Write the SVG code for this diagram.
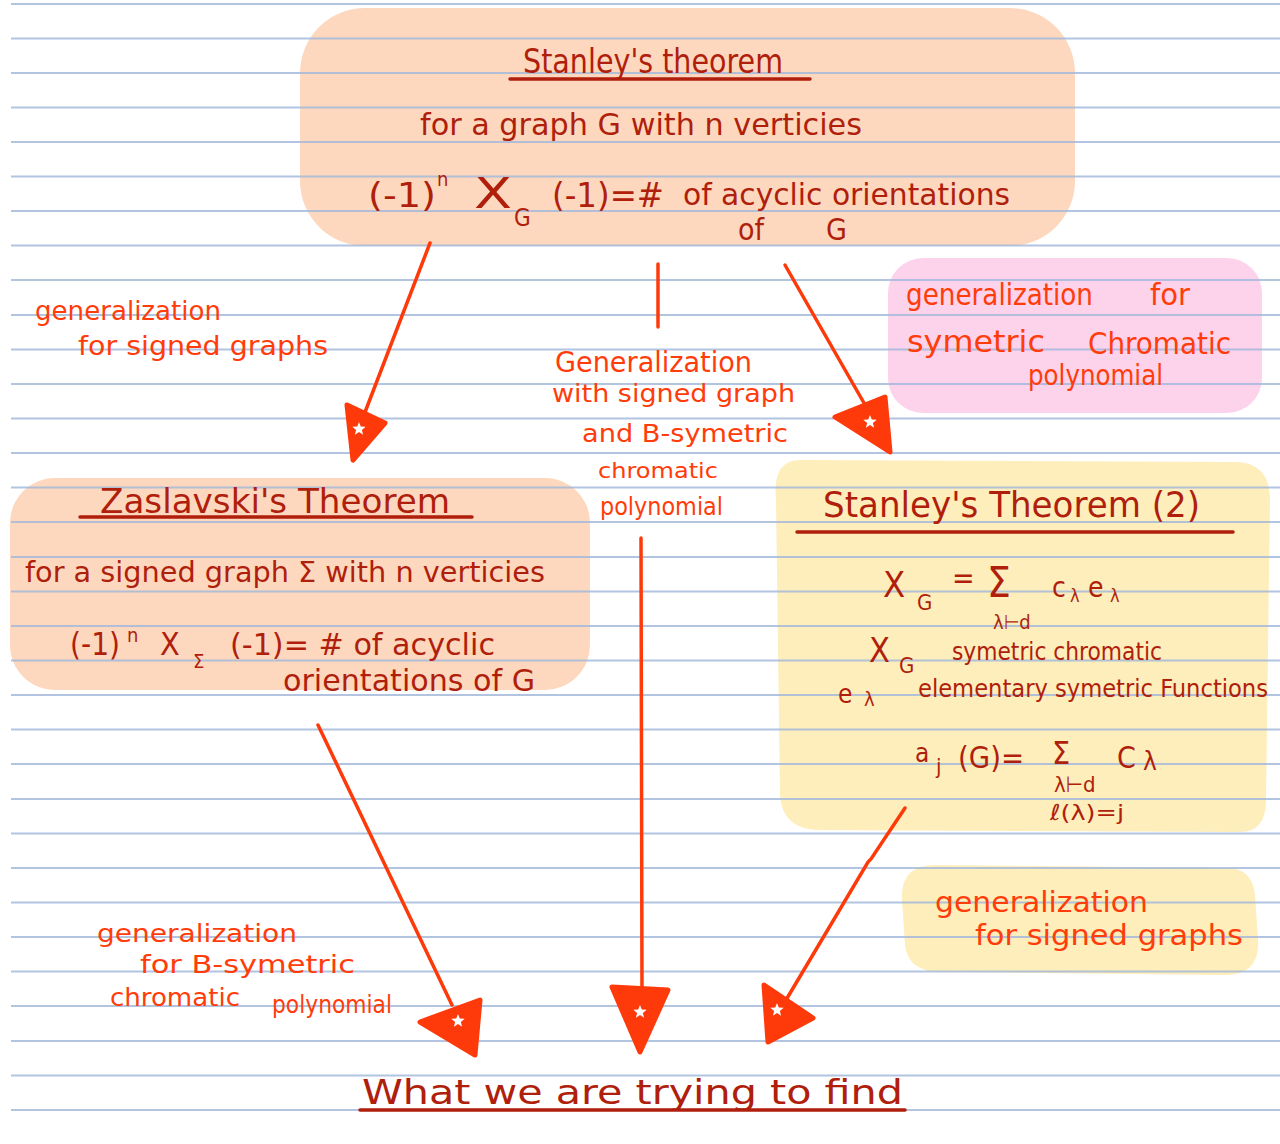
<svg xmlns="http://www.w3.org/2000/svg" width="1280" height="1144" viewBox="0 0 1280 1144">
<style>
.t{font-family:"Liberation Sans Narrow","DejaVu Sans Condensed","Liberation Sans","DejaVu Sans",sans-serif;fill:#b01e0c}
.o{font-family:"Liberation Sans Narrow","DejaVu Sans Condensed","Liberation Sans","DejaVu Sans",sans-serif;fill:#ff3c0a}
.ul{stroke:#b01e0c;stroke-width:3.5;stroke-linecap:round}
.cn{stroke:#ff3a0a;stroke-width:3.5;fill:none;stroke-linecap:round}
.ah{fill:#ff3a0a;stroke:#ff3a0a;stroke-width:5;stroke-linejoin:round}
.rule{stroke:#a6badb;stroke-width:2;opacity:0.85}
</style>
<defs>
<path id="star" d="M0,-7 L1.76,-2.43 L6.66,-2.16 L2.85,0.93 L4.11,5.66 L0,3 L-4.11,5.66 L-2.85,0.93 L-6.66,-2.16 L-1.76,-2.43 Z" fill="#ffffff"/>
</defs>
<rect width="1280" height="1144" fill="#ffffff"/>
<g id="boxes">
<rect x="300" y="8" width="775" height="238" rx="65" fill="#fdd8be"/>
<rect x="10" y="478" width="580" height="212" rx="45" fill="#fdd8be"/>
<rect x="888" y="258" width="374" height="155" rx="35" fill="#fdd3ec"/>
<path d="M800,460 Q772,460 776,500 L780,795 Q782,832 825,830 L1240,832 Q1266,832 1266,800 L1270,500 Q1270,462 1235,462 Z" fill="#fdeebb"/>
<path d="M935,865 Q900,865 902,900 L905,945 Q908,975 950,972 L1225,975 Q1260,975 1258,940 L1255,895 Q1252,865 1220,868 Z" fill="#fdeebb"/>
</g>
<g id="rules">
<line class="rule" x1="11" y1="4" x2="1280" y2="4" opacity="0.5"/>
<line class="rule" x1="11" y1="38.5" x2="1280" y2="38.5"/>
<line class="rule" x1="11" y1="73" x2="1280" y2="73"/>
<line class="rule" x1="11" y1="107.5" x2="1280" y2="107.5"/>
<line class="rule" x1="11" y1="142" x2="1280" y2="142"/>
<line class="rule" x1="11" y1="176.5" x2="1280" y2="176.5"/>
<line class="rule" x1="11" y1="211" x2="1280" y2="211"/>
<line class="rule" x1="11" y1="245.5" x2="1280" y2="245.5"/>
<line class="rule" x1="11" y1="280" x2="1280" y2="280"/>
<line class="rule" x1="11" y1="315" x2="1280" y2="315"/>
<line class="rule" x1="11" y1="349.5" x2="1280" y2="349.5"/>
<line class="rule" x1="11" y1="384" x2="1280" y2="384"/>
<line class="rule" x1="11" y1="418.5" x2="1280" y2="418.5"/>
<line class="rule" x1="11" y1="453" x2="1280" y2="453"/>
<line class="rule" x1="11" y1="487.5" x2="1280" y2="487.5"/>
<line class="rule" x1="11" y1="522" x2="1280" y2="522"/>
<line class="rule" x1="11" y1="557" x2="1280" y2="557"/>
<line class="rule" x1="11" y1="591.5" x2="1280" y2="591.5"/>
<line class="rule" x1="11" y1="626" x2="1280" y2="626"/>
<line class="rule" x1="11" y1="660.5" x2="1280" y2="660.5"/>
<line class="rule" x1="11" y1="695" x2="1280" y2="695"/>
<line class="rule" x1="11" y1="729.5" x2="1280" y2="729.5"/>
<line class="rule" x1="11" y1="764" x2="1280" y2="764"/>
<line class="rule" x1="11" y1="799" x2="1280" y2="799"/>
<line class="rule" x1="11" y1="833.5" x2="1280" y2="833.5"/>
<line class="rule" x1="11" y1="868" x2="1280" y2="868"/>
<line class="rule" x1="11" y1="902.5" x2="1280" y2="902.5"/>
<line class="rule" x1="11" y1="937" x2="1280" y2="937"/>
<line class="rule" x1="11" y1="971.5" x2="1280" y2="971.5"/>
<line class="rule" x1="11" y1="1006" x2="1280" y2="1006"/>
<line class="rule" x1="11" y1="1041" x2="1280" y2="1041"/>
<line class="rule" x1="11" y1="1075.5" x2="1280" y2="1075.5"/>
<line class="rule" x1="11" y1="1110" x2="1280" y2="1110"/>
</g>
<g id="node-stanley">
<text class="t" x="523" y="73" font-size="34" textLength="260" lengthAdjust="spacingAndGlyphs">Stanley's theorem</text>
<line class="ul" x1="510" y1="79" x2="810" y2="79"/>
<text class="t" x="420" y="135" font-size="30" textLength="442" lengthAdjust="spacingAndGlyphs">for a graph G with n verticies</text>
<text class="t" x="368" y="207" font-size="34" textLength="68" lengthAdjust="spacingAndGlyphs">(-1)</text>
<text class="t" x="437" y="186" font-size="20">n</text>
<text class="t" x="474" y="208" font-size="42" textLength="38" lengthAdjust="spacingAndGlyphs">X</text>
<text class="t" x="514" y="226" font-size="24">G</text>
<text class="t" x="552" y="207" font-size="34" textLength="112" lengthAdjust="spacingAndGlyphs">(-1)=#</text>
<text class="t" x="683" y="205" font-size="30" textLength="327" lengthAdjust="spacingAndGlyphs">of acyclic orientations</text>
<text class="t" x="738" y="240" font-size="30">of</text>
<text class="t" x="826" y="240" font-size="30">G</text>
</g>
<g id="node-zaslavski">
<text class="t" x="100" y="513" font-size="34" textLength="350" lengthAdjust="spacingAndGlyphs">Zaslavski's Theorem</text>
<line class="ul" x1="80" y1="517" x2="472" y2="517"/>
<text class="t" x="25" y="582" font-size="28" textLength="520" lengthAdjust="spacingAndGlyphs">for a signed graph Σ with n verticies</text>
<text class="t" x="70" y="655" font-size="32" textLength="50" lengthAdjust="spacingAndGlyphs">(-1)</text>
<text class="t" x="127" y="642" font-size="20">n</text>
<text class="t" x="160" y="655" font-size="32">X</text>
<text class="t" x="193" y="668" font-size="20">Σ</text>
<text class="t" x="230" y="655" font-size="30" textLength="265" lengthAdjust="spacingAndGlyphs">(-1)= # of acyclic</text>
<text class="t" x="283" y="691" font-size="30" textLength="252" lengthAdjust="spacingAndGlyphs">orientations of G</text>
</g>
<g id="node-stanley2">
<text class="t" x="823" y="517" font-size="36" textLength="377" lengthAdjust="spacingAndGlyphs">Stanley's Theorem (2)</text>
<line class="ul" x1="797" y1="532" x2="1233" y2="532"/>
<text class="t" x="883" y="597" font-size="36">X</text>
<text class="t" x="917" y="610" font-size="22">G</text>
<text class="t" x="952" y="588" font-size="30">=</text>
<text class="t" x="987" y="597" font-size="42">Σ</text>
<text class="t" x="993" y="629" font-size="20">λ⊢d</text>
<text class="t" x="1052" y="597" font-size="28">c</text>
<text class="t" x="1070" y="602" font-size="18">λ</text>
<text class="t" x="1088" y="597" font-size="28">e</text>
<text class="t" x="1110" y="602" font-size="18">λ</text>
<text class="t" x="869" y="662" font-size="34">X</text>
<text class="t" x="899" y="673" font-size="22">G</text>
<text class="t" x="952" y="660" font-size="24" textLength="210" lengthAdjust="spacingAndGlyphs">symetric chromatic</text>
<text class="t" x="838" y="703" font-size="26">e</text>
<text class="t" x="864" y="706" font-size="20">λ</text>
<text class="t" x="918" y="697" font-size="24" textLength="350" lengthAdjust="spacingAndGlyphs">elementary symetric Functions</text>
<text class="t" x="915" y="762" font-size="26">a</text>
<text class="t" x="936" y="774" font-size="22">j</text>
<text class="t" x="958" y="768" font-size="30" textLength="66" lengthAdjust="spacingAndGlyphs">(G)=</text>
<text class="t" x="1052" y="764" font-size="32">Σ</text>
<text class="t" x="1117" y="768" font-size="30">C</text>
<text class="t" x="1143" y="770" font-size="26">λ</text>
<text class="t" x="1054" y="792" font-size="22">λ⊢d</text>
<text class="t" x="1050" y="820" font-size="22" textLength="74" lengthAdjust="spacingAndGlyphs">ℓ(λ)=j</text>
</g>
<g id="node-target">
<text class="t" x="362" y="1104" font-size="34" textLength="541" lengthAdjust="spacingAndGlyphs">What we are trying to find</text>
<line class="ul" x1="360" y1="1110" x2="905" y2="1110" stroke-width="4"/>
</g>
<g id="connectors">
<line class="cn" x1="430" y1="243" x2="362" y2="420"/>
<line class="cn" x1="658" y1="264" x2="658" y2="327" stroke-width="5"/>
<line class="cn" x1="785" y1="265" x2="868" y2="410"/>
<line class="cn" x1="318" y1="725" x2="452" y2="1005"/>
<line class="cn" x1="641" y1="538" x2="642" y2="992"/>
<path class="cn" d="M905,808 L871,859 L868,862 L786,1000"/>
<polygon class="ah" points="347,405 385,423 353,460"/>
<use href="#star" x="359" y="429"/>
<polygon class="ah" points="835,417 885,397 890,452"/>
<use href="#star" x="870" y="422"/>
<polygon class="ah" points="420,1022 480,1000 475,1055"/>
<use href="#star" x="458" y="1021"/>
<polygon class="ah" points="612,987 668,990 640,1052"/>
<use href="#star" x="640" y="1012"/>
<polygon class="ah" points="764,985 813,1018 768,1042"/>
<use href="#star" x="777" y="1010"/>
</g>
<g id="label-left">
<text class="o" x="35" y="320" font-size="26" textLength="186" lengthAdjust="spacingAndGlyphs">generalization</text>
<text class="o" x="78" y="355" font-size="26" textLength="250" lengthAdjust="spacingAndGlyphs">for signed graphs</text>
</g>
<g id="label-center">
<text class="o" x="555" y="372" font-size="28" textLength="197" lengthAdjust="spacingAndGlyphs">Generalization</text>
<text class="o" x="552" y="402" font-size="24" textLength="243" lengthAdjust="spacingAndGlyphs">with signed graph</text>
<text class="o" x="582" y="442" font-size="24" textLength="206" lengthAdjust="spacingAndGlyphs">and B-symetric</text>
<text class="o" x="598" y="478" font-size="22" textLength="120" lengthAdjust="spacingAndGlyphs">chromatic</text>
<text class="o" x="600" y="515" font-size="24" textLength="123" lengthAdjust="spacingAndGlyphs">polynomial</text>
</g>
<g id="label-pink">
<text class="o" x="906" y="305" font-size="30" textLength="187" lengthAdjust="spacingAndGlyphs">generalization</text>
<text class="o" x="1150" y="305" font-size="30" textLength="40" lengthAdjust="spacingAndGlyphs">for</text>
<text class="o" x="907" y="352" font-size="30" textLength="138" lengthAdjust="spacingAndGlyphs">symetric</text>
<text class="o" x="1088" y="354" font-size="30" textLength="143" lengthAdjust="spacingAndGlyphs">Chromatic</text>
<text class="o" x="1028" y="385" font-size="28" textLength="135" lengthAdjust="spacingAndGlyphs">polynomial</text>
</g>
<g id="label-bottom-left">
<text class="o" x="97" y="942" font-size="24" textLength="200" lengthAdjust="spacingAndGlyphs">generalization</text>
<text class="o" x="140" y="973" font-size="24" textLength="215" lengthAdjust="spacingAndGlyphs">for B-symetric</text>
<text class="o" x="110" y="1006" font-size="24" textLength="130" lengthAdjust="spacingAndGlyphs">chromatic</text>
<text class="o" x="272" y="1013" font-size="24" textLength="120" lengthAdjust="spacingAndGlyphs">polynomial</text>
</g>
<g id="label-bottom-right">
<text class="o" x="935" y="912" font-size="28" textLength="213" lengthAdjust="spacingAndGlyphs">generalization</text>
<text class="o" x="975" y="945" font-size="28" textLength="268" lengthAdjust="spacingAndGlyphs">for signed graphs</text>
</g>
</svg>
